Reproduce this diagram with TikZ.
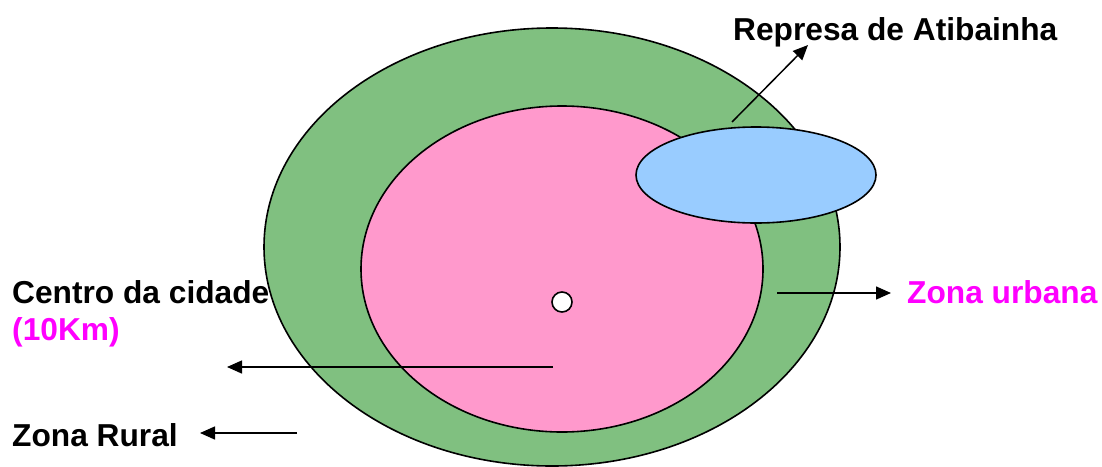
\documentclass[tikz,border=0pt]{standalone}
\usepackage{fontspec}
\setmainfont{Liberation Sans}
\usetikzlibrary{arrows.meta,shapes.geometric}
\definecolor{zoneGreen}{HTML}{80C080}
\definecolor{zonePink}{HTML}{FF99CC}
\definecolor{zoneBlue}{HTML}{99CCFF}
\definecolor{zoneMagenta}{HTML}{FF00FF}
\tikzset{
  >={Triangle[length=15pt,width=13pt]},
  zone/.style={ellipse, draw=black, line width=1.6pt, inner sep=0pt},
  lbl/.style={anchor=base west, inner sep=0pt, font=\fontsize{31.7}{38}\selectfont\bfseries},
  pointer/.style={->, draw=black, line width=1.5pt},
}

\begin{document}
\begin{tikzpicture}[x=1pt,y=-1pt]
        \useasboundingbox (0,0) rectangle (1102,466);
        % zonas
        \node[zone,fill=zoneGreen,minimum width=576pt,minimum height=438pt] (rural) at (552,247){};
        \node[zone,fill=zonePink,minimum width=402pt,minimum height=326pt] (urbana) at (562,269){};
        \node[zone,fill=zoneBlue,minimum width=240pt,minimum height=96pt] (represa) at (756,175){};
        \node[circle,draw=black,line width=1.6pt,fill=white,minimum size=20pt,inner sep=0pt] (centro) at (562,302){};
        % textos
        \node[lbl] (tRepresa) at (733,40){Represa de Atibainha};
        \node[lbl,text=zoneMagenta] (tUrbana) at (907,303){Zona urbana};
        \node[lbl] (tCentro) at (12,303){Centro da cidade};
        \node[lbl,text=zoneMagenta] (tKm) at (12,340){(10Km)};
        \node[lbl] (tRural) at (12,446){Zona Rural};
        % setas
        \coordinate (a1) at (732,122);  \coordinate (b1) at (808,45);
        \coordinate (a2) at (777,293);  \coordinate (b2) at (891,293);
        \coordinate (a3) at (553,367);  \coordinate (b3) at (227,367);
        \coordinate (a4) at (297,433);  \coordinate (b4) at (200,433);
        \draw[pointer] (a1) -- (b1);
        \draw[pointer] (a2) -- (b2);
        \draw[pointer] (a3) -- (b3);
        \draw[pointer] (a4) -- (b4);
      \end{tikzpicture}
\end{document}
